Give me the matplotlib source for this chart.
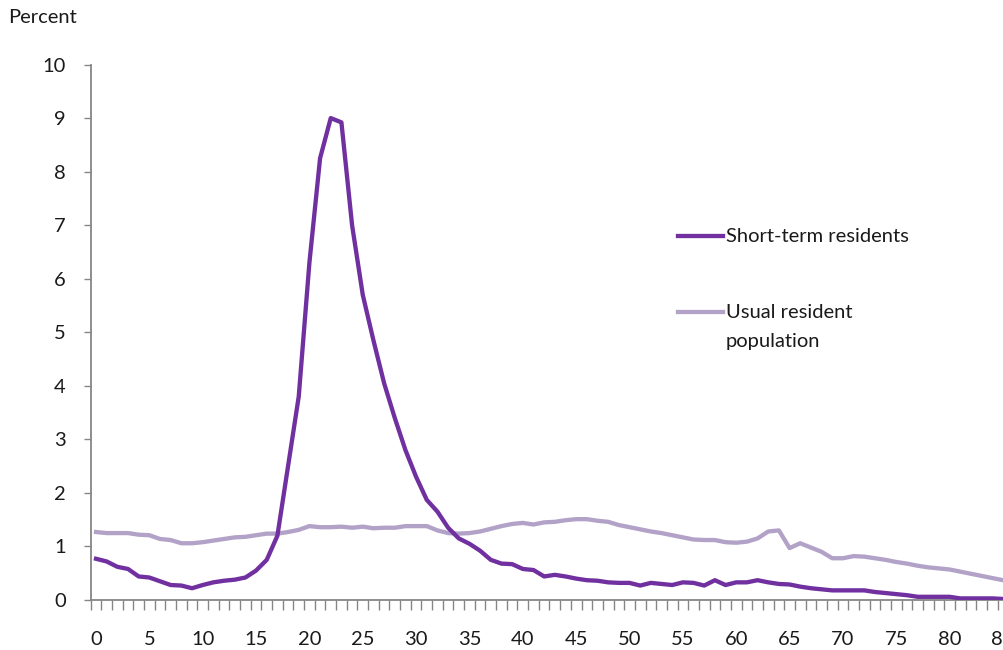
import numpy as np
import matplotlib
matplotlib.use("Agg")
import matplotlib.pyplot as plt
from matplotlib.lines import Line2D

plt.rcParams['font.family'] = ['Lato', 'DejaVu Sans']

# ---------- data (percent of population by single year of age) ----------
ages = list(range(0, 86))

short_term = [
    0.77, 0.72, 0.62, 0.58, 0.44, 0.42, 0.35, 0.28, 0.27, 0.22,
    0.28, 0.33, 0.36, 0.38, 0.42, 0.55, 0.75, 1.2, 2.5, 3.8,
    6.3, 8.25, 9.0, 8.92, 7.0, 5.7, 4.85, 4.05, 3.4, 2.8,
    2.3, 1.87, 1.65, 1.35, 1.15, 1.05, 0.92, 0.75, 0.68, 0.67,
    0.58, 0.56, 0.44, 0.47, 0.44, 0.40, 0.37, 0.36, 0.33, 0.32,
    0.32, 0.27, 0.32, 0.30, 0.28, 0.33, 0.32, 0.27, 0.37, 0.28,
    0.33, 0.33, 0.37, 0.33, 0.30, 0.29, 0.25, 0.22, 0.20, 0.18,
    0.18, 0.18, 0.18, 0.15, 0.13, 0.11, 0.09, 0.06, 0.06, 0.06,
    0.06, 0.03, 0.03, 0.03, 0.03, 0.02,
]

usual_resident = [
    1.27, 1.25, 1.25, 1.25, 1.22, 1.21, 1.14, 1.12, 1.06, 1.06,
    1.08, 1.11, 1.14, 1.17, 1.18, 1.21, 1.24, 1.24, 1.27, 1.31,
    1.38, 1.36, 1.36, 1.37, 1.35, 1.37, 1.34, 1.35, 1.35, 1.38,
    1.38, 1.38, 1.30, 1.25, 1.24, 1.25, 1.28, 1.33, 1.38, 1.42,
    1.44, 1.41, 1.45, 1.46, 1.49, 1.51, 1.51, 1.48, 1.46, 1.40,
    1.36, 1.32, 1.28, 1.25, 1.21, 1.17, 1.13, 1.12, 1.12, 1.08,
    1.07, 1.09, 1.15, 1.28, 1.30, 0.97, 1.06, 0.98, 0.90, 0.78,
    0.78, 0.82, 0.81, 0.78, 0.75, 0.71, 0.68, 0.64, 0.61, 0.59,
    0.57, 0.53, 0.49, 0.45, 0.41, 0.37,
]

series_names = ['Short-term residents', 'Usual resident\npopulation']
x_labels = list(range(0, 86, 5))
y_ticks = list(range(0, 11))

DARK = '#7030A0'
LIGHT = '#B3A2C7'
GRAY = '#868686'
TXT = '#1a1a1a'
FS = 14.5

# ---------- figure ----------
fig = plt.figure(figsize=(10.04, 6.5), dpi=100)
ax = fig.add_axes([0.0903, 0.0769, 0.914, 0.8238])

ax.plot(ages, short_term, color=DARK, linewidth=3.1, solid_joinstyle='round', zorder=3)
ax.plot(ages, usual_resident, color=LIGHT, linewidth=3.1, solid_joinstyle='round', zorder=2)

ax.set_xlim(-0.5, 85.5)
ax.set_ylim(0, 10)

ax.set_xticks(x_labels)
ax.set_xticklabels([str(v) for v in x_labels])
ax.set_xticks([a - 0.5 for a in ages] + [85.5], minor=True)
ax.tick_params(axis='x', which='major', length=0, pad=22, labelsize=FS, labelcolor=TXT)
ax.tick_params(axis='x', which='minor', length=7.5, width=1, color=GRAY, direction='out')

ax.set_yticks(y_ticks)
ax.tick_params(axis='y', which='major', length=5, width=1, color=GRAY, direction='out',
               pad=13, labelsize=FS, labelcolor=TXT)

for side in ['top', 'right']:
    ax.spines[side].set_visible(False)
for side in ['left', 'bottom']:
    ax.spines[side].set_color(GRAY)
    ax.spines[side].set_linewidth(1.3)

fig.text(8 / 1004, 1 - 9 / 650, 'Percent', ha='left', va='top', fontsize=FS, color=TXT)

# legend drawn by hand so the key sits on the first line of a wrapped label
for (name, col, ypx) in zip(series_names, [DARK, LIGHT], [236, 312]):
    yf = 1 - ypx / 650
    fig.add_artist(Line2D([678 / 1004, 723 / 1004], [yf, yf], color=col,
                          linewidth=3.1, transform=fig.transFigure))
    fig.text(726 / 1004, 1 - (ypx - 8) / 650, name, ha='left', va='top',
             fontsize=FS, color=TXT, linespacing=1.85)

fig.savefig('out.png', dpi=100)
